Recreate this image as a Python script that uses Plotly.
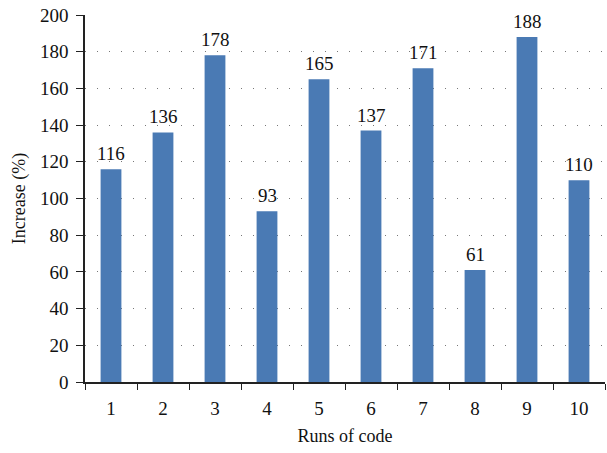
import plotly.graph_objects as go

runs = ["1", "2", "3", "4", "5", "6", "7", "8", "9", "10"]
increase = [116, 136, 178, 93, 165, 137, 171, 61, 188, 110]
y_ticks = [0, 20, 40, 60, 80, 100, 120, 140, 160, 180, 200]

BAR_COLOR = "#4a7ab4"
FONT = "Liberation Serif"

fig = go.Figure(go.Bar(x=runs, y=increase, marker_color=BAR_COLOR,
                       marker_line_width=0, cliponaxis=False))

# value labels above each bar (x = category index on the category axis)
for i, val in enumerate(increase):
    fig.add_annotation(x=i, y=val, text=str(val), showarrow=False,
                       yanchor="bottom", yshift=3,
                       font=dict(family=FONT, size=19, color="#111"))

fig.update_layout(
    width=607, height=453,
    margin=dict(l=85, r=2, t=15, b=71),
    plot_bgcolor="white", paper_bgcolor="white",
    bargap=0.6, showlegend=False,
    font=dict(family=FONT, size=19, color="#111"),
)
fig.update_xaxes(
    type="category", tickson="boundaries", ticks="outside", ticklen=6,
    tickcolor="#222", showline=True, linecolor="#222", linewidth=1.5,
    ticklabelstandoff=8, showgrid=False,
    title=dict(text="Runs of code", standoff=12, font_size=18))
fig.update_yaxes(
    range=[0, 200], tickvals=y_ticks, ticks="outside", ticklen=7,
    tickcolor="#222", showline=True, linecolor="#222", linewidth=1.5,
    ticklabelstandoff=4,
    showgrid=True, gridcolor="#777", griddash="1px,11px", gridwidth=1,
    zeroline=False, title=dict(text="Increase (%)", standoff=10, font_size=18))

fig.write_html("out.html", config={"displayModeBar": False},
               post_script="document.body.style.margin='0';")
